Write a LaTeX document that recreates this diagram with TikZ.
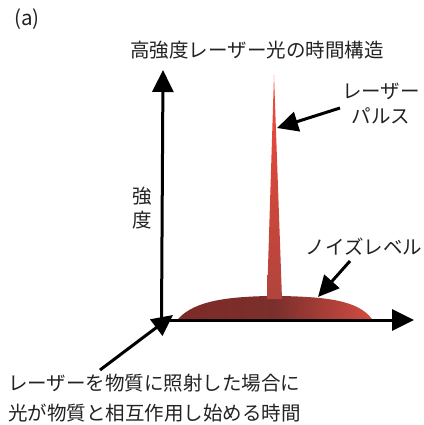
\documentclass[tikz,border=0pt]{standalone}
\usepackage{fontspec}
\newfontfamily\jp{Noto Sans CJK JP}
\usetikzlibrary{arrows.meta}
\definecolor{txt}{HTML}{222222}
\definecolor{humpL}{HTML}{7E2A27}
\definecolor{humpM}{HTML}{6C2A28}
\definecolor{humpR}{HTML}{D24C42}
\definecolor{spikeT}{HTML}{F24A3A}
\definecolor{spikeB}{HTML}{B0443C}
\tikzset{
  lbl/.style={font=\jp\fontsize{19.5}{22}\selectfont, text=txt, inner sep=0pt},
  axisarrow/.style={line width=3pt, -{Triangle[length=22pt,width=21pt]}},
  pointer/.style={line width=3pt, -{Triangle[length=21pt,width=20pt]}},
}
\begin{document}
\begin{tikzpicture}[x=1pt,y=-1pt]
\useasboundingbox (0,0) rectangle (423,425);
% hump (noise level) with spike
\shade[left color=humpL, right color=humpR, middle color=humpM!85!humpR]
  (178,319) .. controls (195,300) and (230,297) .. (267,296)
  -- (282,296) .. controls (325,297) and (358,300) .. (372,319) -- cycle;
\shade[top color=spikeT, bottom color=spikeB]
  (274,75) -- (282,299) -- (267,299) -- cycle;
% axes
\coordinate (o) at (163,320);
\coordinate (ytip) at (163,70);
\coordinate (xtip) at (414,320);
\draw[axisarrow] (161.5,320) -- (ytip);
\draw[axisarrow] (161.5,320) -- (xtip);
% labels
\node[lbl, font=\jp\fontsize{20.5}{22}\selectfont] (a) at (27,19) {(a)};
\node[lbl] (title) at (257,50) {高強度レーザー光の時間構造};
\node[lbl, align=center] (ylab) at (142,208) {強\\[2pt]度};
\node[lbl, align=center] (pulse) at (381,104) {レーザー\\[3pt]パルス};
\node[lbl] (noise) at (364,247) {ノイズレベル};
\node[lbl, anchor=west] (t1) at (8,383) {レーザーを物質に照射した場合に};
\node[lbl, anchor=west] (t2) at (8,413) {光が物質と相互作用し始める時間};
% pointers
\coordinate (p1s) at (340,108);
\coordinate (p1e) at (277,128);
\coordinate (p2s) at (350,261);
\coordinate (p2e) at (318,297);
\coordinate (p3s) at (100,370);
\coordinate (p3e) at (173,315);
\draw[pointer] (p1s) -- (p1e);
\draw[pointer] (p2s) -- (p2e);
\draw[pointer] (p3s) -- (p3e);
\end{tikzpicture}
\end{document}
